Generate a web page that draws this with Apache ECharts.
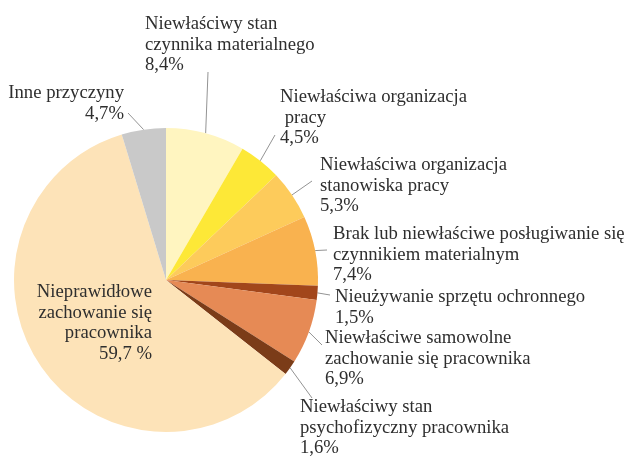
<!DOCTYPE html>
<html>
<head>
<meta charset="utf-8">
<script src="https://cdn.jsdelivr.net/npm/echarts@6/dist/echarts.min.js"></script>
<style>
  html, body { margin: 0; padding: 0; background: #fff; }
  #chart { width: 630px; height: 457px; }
</style>
</head>
<body>
<div id="chart"></div>
<script>
// causes of accidents, clockwise from 12 o'clock
var categories = [
  'Niewłaściwy stan\nczynnika materialnego',
  'Niewłaściwa organizacja\n pracy',
  'Niewłaściwa organizacja\nstanowiska pracy',
  'Brak lub niewłaściwe posługiwanie się\nczynnikiem materialnym',
  'Nieużywanie sprzętu ochronnego',
  'Niewłaściwe samowolne\nzachowanie się pracownika',
  'Niewłaściwy stan\npsychofizyczny pracownika',
  'Nieprawidłowe\nzachowanie się\npracownika',
  'Inne przyczyny'
];
var values = [8.4, 4.5, 5.3, 7.4, 1.5, 6.9, 1.6, 59.7, 4.7];
var colors = ['#fff5c0', '#fde837', '#fdcb5b', '#f9b24f', '#a2461b', '#e68a55', '#7b3c18', '#fde3b8', '#c9c9c9'];

// label placement: [x, y(top), align], and where each leader line ends
var labelPos = [
  [145, 14, 'left'],
  [280, 87, 'left'],
  [320, 155, 'left'],
  [333, 224, 'left'],
  [335, 287, 'left'],
  [325, 328, 'left'],
  [300, 397, 'left'],
  [152, 282, 'right'],
  [124, 83, 'right']
];
var lineEnds = [
  [208, 72], [275, 135], [312, 181], [327, 250], [330, 295],
  [322, 345], [312, 398], null, [128, 113]
];

var chart = echarts.init(document.getElementById('chart'), null, { renderer: 'canvas' });

var cx = 166, cy = 280, r = 152;

chart.setOption({
  animation: false,
  series: [{
    type: 'pie',
    center: [cx, cy],
    radius: r,
    startAngle: 90,
    clockwise: true,
    avoidLabelOverlap: false,
    data: values.map(function(v, i) {
      var item = { name: categories[i], value: v, itemStyle: { color: colors[i] } };
      if (i === 7) item.labelLine = { show: false };
      return item;
    }),
    label: {
      show: true,
      position: 'outside',
      fontFamily: 'Liberation Serif',
      fontSize: 18.7,
      lineHeight: 20.5,
      color: '#2e2e2e',
      formatter: function(p) {
        var pct = p.value.toFixed(1).replace('.', ',') + (p.dataIndex === 7 ? ' %' : '%');
        return p.name + '\n' + pct;
      }
    },
    labelLine: {
      show: true,
      length: 10,
      length2: 10,
      lineStyle: { color: '#939393', width: 1 }
    },
    labelLayout: function(p) {
      var i = p.dataIndex;
      var pos = labelPos[i];
      var out = { x: pos[0], y: pos[1], align: pos[2], verticalAlign: 'top' };
      if (lineEnds[i] && p.labelLinePoints) {
        out.labelLinePoints = [p.labelLinePoints[0], lineEnds[i]];
      }
      return out;
    }
  }]
});
</script>
</body>
</html>
